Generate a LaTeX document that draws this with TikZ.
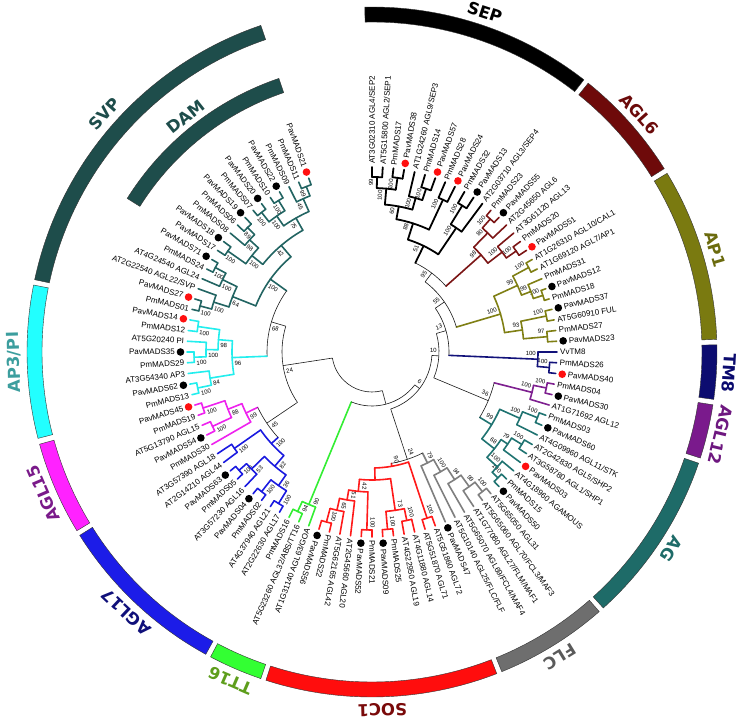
\documentclass[tikz,border=0pt]{standalone}
\usepackage{fontspec}
\setmainfont{Liberation Sans}
\newfontfamily\grpfont{DejaVu Sans}
\usepackage{tikz}

\definecolor{dotred}{HTML}{FF1010}
\definecolor{sepC}{HTML}{000000}
\definecolor{agl6C}{HTML}{6E0A0A}
\definecolor{ap1C}{HTML}{7A7A10}
\definecolor{tm8C}{HTML}{0C0C70}
\definecolor{agl12C}{HTML}{7A1A8C}
\definecolor{agC}{HTML}{1E6B68}
\definecolor{flcC}{HTML}{6E6E6E}
\definecolor{socC}{HTML}{FF0D0D}
\definecolor{ttC}{HTML}{33FF33}
\definecolor{agl17C}{HTML}{1C1CE8}
\definecolor{agl15C}{HTML}{FF22FF}
\definecolor{ap3C}{HTML}{22FFFF}
\definecolor{svpC}{HTML}{1E4D4B}

%% leaf index -> angle (103 leaves over 340 degrees)
\newcommand{\leafang}[1]{90-(#1-1)*3.3333}

%% support value beside a node
\newcommand{\suplabel}[4]{%
  \pgfmathsetmacro{\supmid}{(#1+#2)/2}%
  \pgfmathsetmacro{\supang}{\leafang{\supmid}+344/#3}%
  \pgfmathsetmacro{\suprad}{#3-2}%
  \ifdim\supmid pt<60.5pt
    \node[supp, anchor=east, rotate=\supang] at (\supang:\suprad pt) {#4};%
  \else
    \node[supp, anchor=west, rotate=\supang+180] at (\supang:\suprad pt) {#4};%
  \fi}

%% node: arc style, radius, child1 index, child1 radius, child1 style,
%%       child2 index, child2 radius, child2 style, support
\newcommand{\brnode}[9]{%
  \draw[#5] ({\leafang{#3}}:#4pt) -- ({\leafang{#3}}:#2pt);
  \draw[#8] ({\leafang{#6}}:#2pt) -- ({\leafang{#6}}:#7pt);
  \draw[#1] ({\leafang{#3}}:#2pt) arc[start angle={\leafang{#3}}, end angle={\leafang{#6}}, radius=#2pt];
  \suplabel{#3}{#6}{#2}{#9}}
\newcommand{\clnode}[7]{\brnode{#1}{#2}{#3}{#4}{#1}{#5}{#6}{#1}{#7}}

%% coloured band of the outer ring
\newcommand{\ringband}[5]{%
  \filldraw[fill=#1, draw=black!80, line width=0.4pt] (#2:#4pt) arc[start angle=#2, end angle=#3, radius=#4pt]
    -- (#3:#5pt) arc[start angle=#3, end angle=#2, radius=#5pt] -- cycle;}

\begin{document}
\begin{tikzpicture}[
  leaf/.style={font=\fontsize{8}{9}\selectfont, inner sep=0pt},
  supp/.style={font=\fontsize{6}{7}\selectfont, inner sep=0pt},
  grp/.style={font=\grpfont\bfseries\fontsize{16.5}{18}\selectfont, inner sep=0pt},
  bb/.style={line width=0.6pt, black!90},
  sepbr/.style={line width=1.8pt, black, line cap=round},
  agl6br/.style={line width=1.6pt, color={rgb,255:red,123;green,21;blue,21}, line cap=round},
  ap1br/.style={line width=1.6pt, color={rgb,255:red,127;green,127;blue,20}, line cap=round},
  tm8br/.style={line width=1.6pt, color={rgb,255:red,18;green,18;blue,122}, line cap=round},
  agl12br/.style={line width=1.6pt, color={rgb,255:red,126;green,32;blue,144}, line cap=round},
  agbr/.style={line width=1.6pt, color={rgb,255:red,31;green,115;blue,113}, line cap=round},
  flcbr/.style={line width=1.6pt, color={rgb,255:red,127;green,127;blue,127}, line cap=round},
  socbr/.style={line width=1.6pt, color={rgb,255:red,255;green,26;blue,26}, line cap=round},
  ttbr/.style={line width=1.6pt, color={rgb,255:red,51;green,238;blue,51}, line cap=round},
  agl17br/.style={line width=1.6pt, color={rgb,255:red,26;green,26;blue,224}, line cap=round},
  agl15br/.style={line width=1.6pt, color={rgb,255:red,238;green,34;blue,238}, line cap=round},
  ap3br/.style={line width=1.6pt, color={rgb,255:red,34;green,238;blue,238}, line cap=round},
  svpbr/.style={line width=1.6pt, color={rgb,255:red,34;green,100;blue,98}, line cap=round},
]
\path[fill=white] (-372pt,-371pt) rectangle (367pt,352pt);

%% --- Leaves ---
\foreach \i/\dt/\nm in {
  1/0/{AT3G02310 AGL4/SEP2}, 2/0/{AT5G15800 AGL2/SEP1}, 3/0/{PmMADS17}, 4/2/{PavMADS38},
  5/0/{AT1G24260 AGL9/SEP3}, 6/0/{PmMADS14}, 7/2/{PavMADS57}, 8/0/{PmMADS28},
  9/2/{PavMADS24}, 10/0/{PmMADS32}, 11/1/{PavMADS13}, 12/0/{AT2G03710 AGL3/SEP4},
  13/0/{PmMADS23}, 14/1/{PavMADS55}, 15/0/{AT2G45650 AGL6}, 16/0/{AT3G61120 AGL13},
  17/0/{PmMADS20}, 18/2/{PavMADS51}, 19/0/{AT1G26310 AGL10/CAL1}, 20/0/{AT1G69120 AGL7/AP1},
  21/0/{PmMADS31}, 22/1/{PavMADS12}, 23/0/{PmMADS18}, 24/1/{PavMADS37},
  25/0/{AT5G60910 FUL}, 26/0/{PmMADS27}, 27/1/{PavMADS23}, 28/0/{VvTM8},
  29/0/{PmMADS26}, 30/2/{PavMADS40}, 31/0/{PmMADS04}, 32/1/{PavMADS30},
  33/0/{AT1G71692 AGL12}, 34/0/{PmMADS03}, 35/1/{PavMADS60}, 36/0/{AT4G09960 AGL11/STK},
  37/0/{AT2G42830 AGL5/SHP2}, 38/0/{AT3G58780 AGL1/SHP1}, 39/2/{PavMADS03}, 40/0/{AT4G18960 AGAMOUS},
  41/0/{PmMADS15}, 42/1/{PavMADS50}, 43/0/{AT5G65050 AGL31}, 44/0/{AT5G65060 AGL70/FCL3/MAF3},
  45/0/{AT1G77080 AGL27/FLM/MAF1}, 46/0/{AT5G65070 AGL69/FCL4/MAF4}, 47/0/{AT5G10140 AGL25/FLC/FLF}, 48/1/{PavMADS47},
  49/0/{AT5G51860 AGL72}, 50/0/{AT5G51870 AGL71}, 51/0/{AT4G11880 AGL14}, 52/0/{AT4G22950 AGL19},
  53/0/{PmMADS25}, 54/1/{PavMADS09}, 55/0/{PmMADS21}, 56/1/{PavMADS52},
  57/0/{AT2G45660 AGL20}, 58/0/{AT5G62165 AGL42}, 59/0/{PmMADS22}, 60/1/{PavMADS56},
  61/0/{AT1G31140 AGL63/GOA}, 62/0/{AT5G23260 AGL32/ABS/TT16}, 63/0/{PmMADS16}, 64/0/{AT2G22630 AGL17},
  65/0/{AT4G37940 AGL21}, 66/0/{PmMADS02}, 67/1/{PavMADS04}, 68/0/{AT3G57230 AGL16},
  69/0/{PmMADS05}, 70/1/{PavMADS63}, 71/0/{AT2G14210 AGL44}, 72/0/{AT3G57390 AGL18},
  73/0/{PmMADS30}, 74/1/{PavMADS54}, 75/0/{AT5G13790 AGL15}, 76/0/{PmMADS19},
  77/2/{PavMADS45}, 78/0/{PmMADS13}, 79/1/{PavMADS62}, 80/0/{AT3G54340 AP3},
  81/0/{PmMADS29}, 82/1/{PavMADS35}, 83/0/{AT5G20240 PI}, 84/0/{PmMADS12},
  85/2/{PavMADS14}, 86/0/{PmMADS01}, 87/2/{PavMADS27}, 88/0/{AT2G22540 AGL22/SVP},
  89/0/{AT4G24540 AGL24}, 90/0/{PmMADS24}, 91/1/{PavMADS71}, 92/0/{PavMADS17},
  93/1/{PavMADS18}, 94/0/{PmMADS08}, 95/0/{PmMADS06}, 96/1/{PavMADS19},
  97/0/{PmMADS07}, 98/1/{PavMADS20}, 99/0/{PmMADS10}, 100/1/{PavMADS22},
  101/0/{PmMADS09}, 102/0/{PmMADS11}, 103/2/{PavMADS21}}{
  \pgfmathsetmacro{\lfang}{90-(\i-1)*3.3333}
  \pgfmathsetmacro{\lfrad}{\dt>0 ? 197 : 188}
  \ifnum\i<61
    \node[leaf, anchor=west, rotate=\lfang] (L\i) at (\lfang:\lfrad pt) {\nm};
  \else
    \node[leaf, anchor=east, rotate=\lfang+180] (L\i) at (\lfang:\lfrad pt) {\nm};
  \fi
  \ifnum\dt=1 \fill[black] (\lfang:191.5pt) circle (3.8pt); \fi
  \ifnum\dt=2 \fill[dotred] (\lfang:191.5pt) circle (3.8pt); \fi
}

%% --- SEP ---
\clnode{sepbr}{175}{1}{185}{2}{185}{99}
\clnode{sepbr}{176}{3}{185}{4}{185}{100}
\clnode{sepbr}{164}{1.5}{175}{3.5}{176}{100}
\clnode{sepbr}{172}{6}{185}{7}{185}{100}
\clnode{sepbr}{160}{5}{185}{6.5}{172}{100}
\clnode{sepbr}{148}{2.5}{164}{5.75}{160}{60}
\clnode{sepbr}{168}{8}{185}{9}{185}{100}
\clnode{sepbr}{135}{4.125}{148}{8.5}{168}{88}
\clnode{sepbr}{172}{10}{185}{11}{185}{100}
\clnode{sepbr}{150}{10.5}{172}{12}{185}{100}
\clnode{sepbr}{118}{6.3125}{135}{11.25}{150}{51}

%% --- AGL6 ---
\clnode{agl6br}{178}{13}{185}{14}{185}{100}
\clnode{agl6br}{166}{13.5}{178}{15}{185}{80}
\clnode{agl6br}{176}{17}{185}{18}{185}{100}
\clnode{agl6br}{164}{16}{185}{17.5}{176}{100}
\clnode{agl6br}{146}{14.25}{166}{16.75}{164}{98}

%% --- AP1 ---
\clnode{ap1br}{178}{19}{185}{20}{185}{100}
\clnode{ap1br}{180}{22}{185}{23}{185}{100}
\clnode{ap1br}{170}{21}{185}{22.5}{180}{99}
\clnode{ap1br}{160}{19.5}{178}{21.75}{170}{99}
\clnode{ap1br}{178}{24}{185}{25}{185}{100}
\clnode{ap1br}{176}{26}{185}{27}{185}{97}
\clnode{ap1br}{152}{24.5}{178}{26.5}{176}{93}
\clnode{ap1br}{134}{20.625}{160}{25.5}{152}{100}

%% --- TM8, AGL12 ---
\clnode{tm8br}{178}{29}{185}{30}{185}{100}
\clnode{tm8br}{166}{28}{185}{29.5}{178}{100}
\clnode{agl12br}{178}{31}{185}{32}{185}{100}
\clnode{agl12br}{165}{31.5}{178}{33}{185}{100}

%% --- AG ---
\clnode{agbr}{178}{34}{185}{35}{185}{100}
\clnode{agbr}{162}{34.5}{178}{36}{185}{100}
\clnode{agbr}{176}{37}{185}{38}{185}{100}
\clnode{agbr}{164}{37.5}{176}{39}{185}{79}
\clnode{agbr}{178}{41}{185}{42}{185}{100}
\clnode{agbr}{170}{40}{185}{41.5}{178}{100}
\clnode{agbr}{156}{38.25}{164}{40.75}{170}{68}
\clnode{agbr}{140}{35.25}{162}{39.5}{156}{99}
\brnode{bb}{126}{32.25}{165}{agl12br}{37.375}{140}{agbr}{36}

%% --- FLC ---
\clnode{flcbr}{178}{43}{185}{44}{185}{100}
\clnode{flcbr}{166}{43.5}{178}{45}{185}{99}
\clnode{flcbr}{152}{44.25}{166}{46}{185}{94}
\clnode{flcbr}{138}{45.125}{152}{47}{185}{100}
\clnode{flcbr}{124}{46.0625}{138}{48}{185}{79}

%% --- SOC1 ---
\clnode{socbr}{175}{49}{185}{50}{185}{100}
\clnode{socbr}{172}{51}{185}{52}{185}{100}
\clnode{socbr}{178}{53}{185}{54}{185}{100}
\clnode{socbr}{160}{51.5}{172}{53.5}{178}{73}
\clnode{socbr}{178}{55}{185}{56}{185}{100}
\clnode{socbr}{176}{59}{185}{60}{185}{100}
\clnode{socbr}{162}{58}{185}{59.5}{176}{65}
\clnode{socbr}{150}{57}{185}{58.75}{162}{51}
\clnode{socbr}{140}{55.5}{178}{57.875}{150}{42}
\clnode{socbr}{128}{52.5}{160}{56.6875}{140}{}
\clnode{socbr}{116}{49.5}{175}{54.59375}{128}{90}
\brnode{bb}{113}{47.03125}{124}{flcbr}{52.046875}{116}{socbr}{24}

%% --- TT16 ---
\clnode{ttbr}{176}{62}{185}{63}{185}{94}
\clnode{ttbr}{165}{61}{185}{62.5}{176}{90}

%% --- AGL17 ---
\clnode{agl17br}{178}{64}{185}{65}{185}{100}
\clnode{agl17br}{178}{66}{185}{67}{185}{100}
\clnode{agl17br}{163}{64.5}{178}{66.5}{178}{36}
\clnode{agl17br}{178}{69}{185}{70}{185}{100}
\clnode{agl17br}{168}{68}{185}{69.5}{178}{53}
\clnode{agl17br}{150}{65.5}{163}{68.75}{168}{82}
\clnode{agl17br}{168}{71}{185}{72}{185}{100}
\clnode{agl17br}{136}{67.125}{150}{71.5}{168}{100}

%% --- AGL15 ---
\clnode{agl15br}{178}{76}{185}{77}{185}{100}
\clnode{agl15br}{176}{74}{185}{75}{185}{100}
\clnode{agl15br}{155}{74.5}{176}{76.5}{178}{88}
\clnode{agl15br}{140}{73}{185}{75.5}{155}{99}
\brnode{bb}{127}{69.3125}{136}{agl17br}{74.25}{140}{agl15br}{45}

%% --- AP3/PI ---
\clnode{ap3br}{178}{78}{185}{79}{185}{100}
\clnode{ap3br}{164}{78.5}{178}{80}{185}{84}
\clnode{ap3br}{178}{81}{185}{82}{185}{100}
\clnode{ap3br}{166}{81.5}{178}{83}{185}{100}
\clnode{ap3br}{176}{84}{185}{85}{185}{100}
\clnode{ap3br}{154}{82.25}{166}{84.5}{176}{98}
\clnode{ap3br}{140}{79.25}{164}{83.375}{154}{96}

%% --- SVP, DAM ---
\clnode{svpbr}{178}{86}{185}{87}{185}{100}
\clnode{svpbr}{166}{86.5}{178}{88}{185}{100}
\clnode{svpbr}{178}{90}{185}{91}{185}{100}
\clnode{svpbr}{166}{89}{185}{90.5}{178}{100}
\clnode{svpbr}{150}{87.25}{166}{89.75}{166}{64}
\clnode{svpbr}{176}{92}{185}{93}{185}{100}
\clnode{svpbr}{176}{95}{185}{96}{185}{89}
\clnode{svpbr}{166}{94}{185}{95.5}{176}{98}
\clnode{svpbr}{154}{92.5}{176}{94.75}{166}{100}
\clnode{svpbr}{178}{97}{185}{98}{185}{100}
\clnode{svpbr}{178}{99}{185}{100}{185}{100}
\clnode{svpbr}{166}{97.5}{178}{99.5}{178}{100}
\clnode{svpbr}{178}{102}{185}{103}{185}{99}
\clnode{svpbr}{168}{101}{185}{102.5}{178}{45}
\clnode{svpbr}{154}{98.5}{166}{101.75}{168}{75}
\clnode{svpbr}{140}{93.625}{154}{100.125}{154}{42}
\clnode{svpbr}{125}{88.5}{150}{96.875}{140}{100}

%% --- Backbone ---
\brnode{bb}{105}{81.3125}{140}{ap3br}{92.6875}{125}{svpbr}{68}
\brnode{bb}{90}{71.78125}{127}{bb}{87}{105}{bb}{24}
\brnode{bb}{99}{8.78125}{118}{sepbr}{15.5}{146}{agl6br}{95}
\brnode{bb}{88}{12.140625}{99}{bb}{23.0625}{134}{ap1br}{55}
\brnode{bb}{77}{17.6015625}{88}{bb}{28.75}{166}{tm8br}{13}
\brnode{bb}{67}{23.17578125}{77}{bb}{34.8125}{126}{bb}{10}
\brnode{bb}{60}{28.994140625}{67}{bb}{49.5390625}{113}{bb}{6}
\brnode{bb}{54}{39.2666015625}{60}{bb}{61.75}{165}{ttbr}{}
\brnode{bb}{40}{50.50830078125}{54}{bb}{79.390625}{90}{bb}{}

%% --- Outer ring ---
\ringband{sepC}{91.2}{52.1}{330}{345}
\ringband{agl6C}{51.2}{32.1}{330}{345}
\ringband{ap1C}{31.2}{2.1}{330}{345}
\ringband{tm8C}{1.2}{-7.9}{330}{345}
\ringband{agl12C}{-8.8}{-17.9}{330}{345}
\ringband{agC}{-18.8}{-47.9}{330}{345}
\ringband{flcC}{-48.8}{-67.9}{330}{345}
\ringband{socC}{-68.8}{-107.9}{330}{345}
\ringband{ttC}{-108.8}{-117.9}{330}{345}
\ringband{agl17C}{-118.8}{-147.9}{330}{345}
\ringband{agl15C}{-148.8}{-164.5}{330}{345}
\ringband{ap3C}{-165.5}{-191.2}{330}{345}
\ringband{svpC}{-192.1}{-251.2}{330}{345}
\ringband{svpC}{-212.1}{-251.2}{274}{289}

%% --- Family labels ---
\node[grp, text=black, rotate=-18.35] (gSEP) at (71.65:358pt) {SEP};
\node[grp, text={rgb,255:red,107;green,10;blue,10}, rotate=-48.35] (gAGL6) at (41.65:358pt) {AGL6};
\node[grp, text={rgb,255:red,107;green,107;blue,14}, rotate=-73.35] (gAP1) at (16.65:358pt) {AP1};
\node[grp, text={rgb,255:red,10;green,10;blue,110}, rotate=-93.35] (gTM8) at (-3.35:358pt) {TM8};
\node[grp, text={rgb,255:red,110;green,24;blue,128}, rotate=-103.35] (gAGL12) at (-13.35:358pt) {AGL12};
\node[grp, text={rgb,255:red,30;green,107;blue,104}, rotate=-123.35] (gAG) at (-33.35:358pt) {AG};
\node[grp, text={rgb,255:red,90;green,90;blue,90}, rotate=-148.35] (gFLC) at (-58.35:358pt) {FLC};
\node[grp, text={rgb,255:red,122;green,10;blue,10}, rotate=-178.35] (gSOC) at (-88.35:358pt) {SOC1};
\node[grp, text={rgb,255:red,94;green,158;blue,28}, rotate=-203.35] (gTT) at (-113.35:358pt) {TT16};
\node[grp, text={rgb,255:red,16;green,16;blue,122}, rotate=-223.35] (gAGL17) at (-133.35:358pt) {AGL17};
\node[grp, text={rgb,255:red,122;green,26;blue,138}, rotate=-246.65] (gAGL15) at (-156.65:358pt) {AGL15};
\node[grp, text={rgb,255:red,60;green,158;blue,158}, rotate=-268.35] (gAP3) at (-178.35:358pt) {AP3/PI};
\node[grp, text=svpC, rotate=-311.65] (gSVP) at (-221.65:358pt) {SVP};
\node[grp, text=svpC, rotate=-321.65] (gDAM) at (-231.65:300pt) {DAM};

\end{tikzpicture}
\end{document}
